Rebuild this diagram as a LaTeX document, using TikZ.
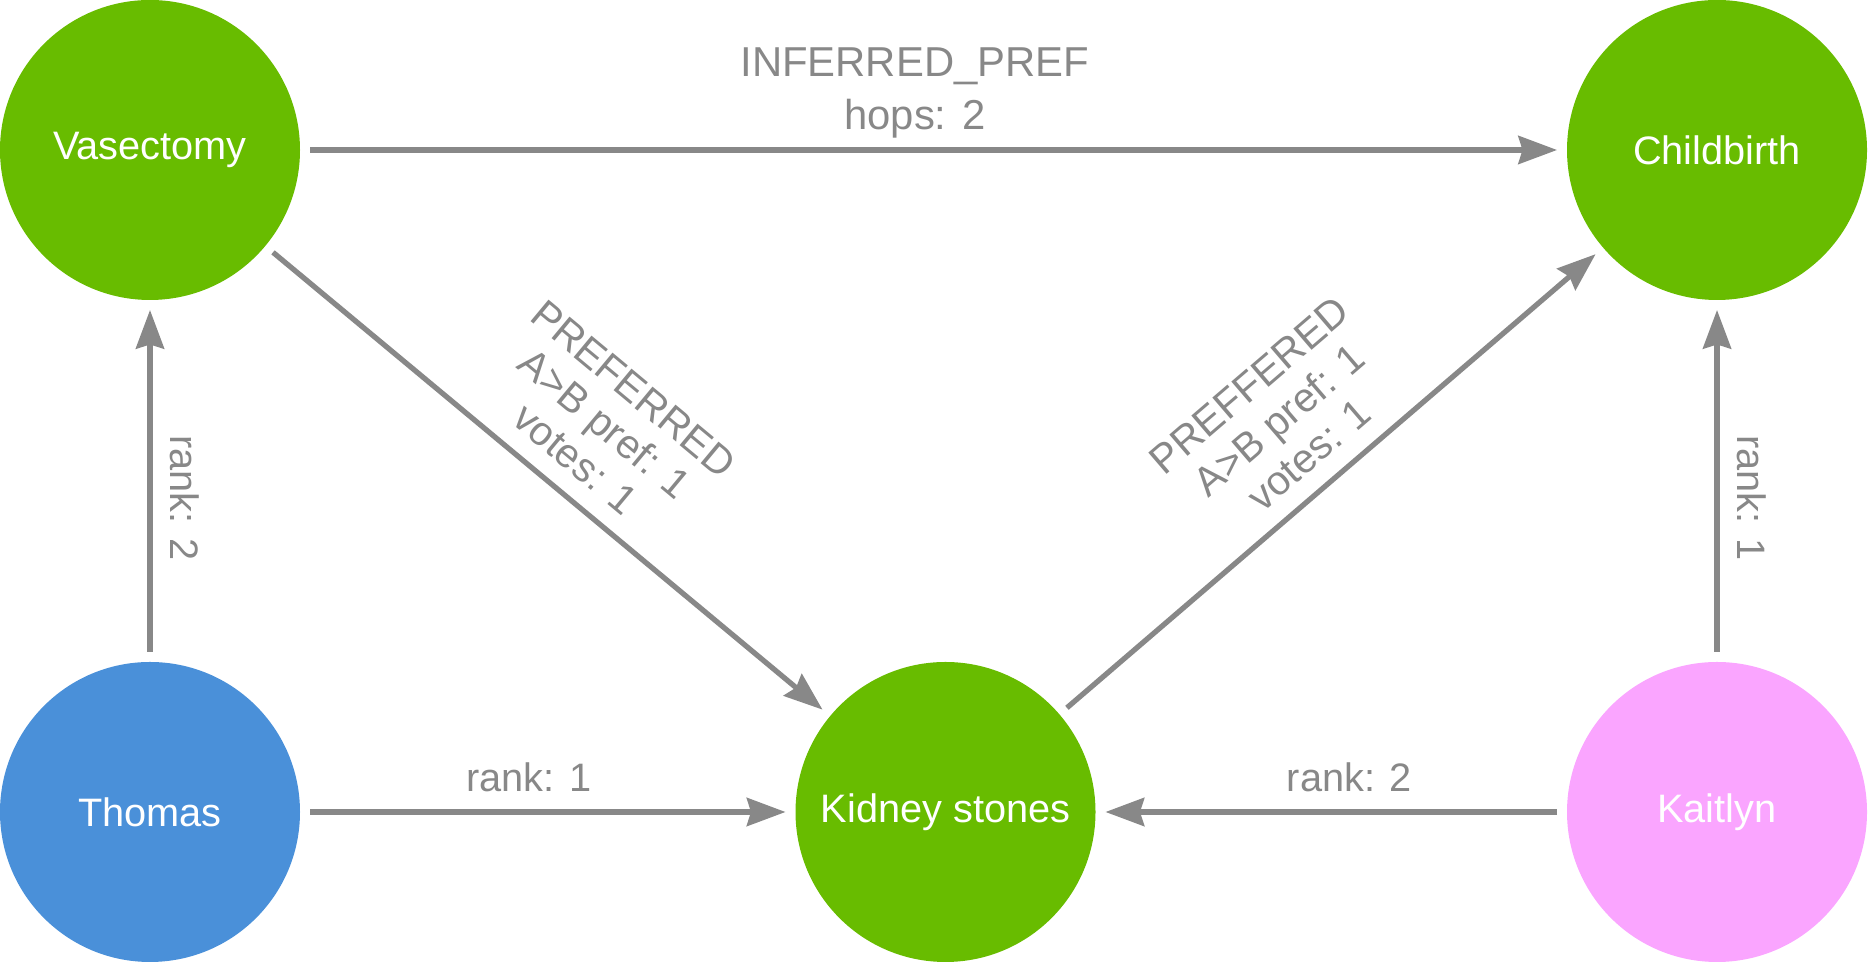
\documentclass[tikz,border=0pt]{standalone}
\usepackage{fontspec}
\setmainfont{Liberation Sans}
\usetikzlibrary{arrows.meta,positioning}
\definecolor{nodegreen}{HTML}{68BC00}
\definecolor{nodeblue}{HTML}{4A90D9}
\definecolor{nodepink}{HTML}{FAA5FF}
\definecolor{relgray}{HTML}{888888}

\begin{document}
\begin{tikzpicture}[
    entity/.style={circle, minimum size=3cm, inner sep=0pt, outer sep=0.1cm, text=white, font=\fontsize{11.3}{14}\selectfont},
    rel/.style={draw=relgray, line width=1.5pt, -{Stealth[length=11pt, width=8pt, inset=1.2pt]}},
    lbl/.style={text=relgray, align=center, inner sep=5pt, font=\fontsize{11.3}{15}\selectfont},
    tightlbl/.style={lbl, font=\fontsize{11.6}{13}\selectfont}
]
    \useasboundingbox (0,0) rectangle (18.68,9.62);

    \node [entity, fill=nodegreen] (vasectomy) at (1.5,8.12) {Vasectomy};
    \node [entity, fill=nodegreen] (childbirth) at (17.17,8.12) {Childbirth};
    \node [entity, fill=nodeblue] (thomas) at (1.5,1.5) {Thomas};
    \node [entity, fill=nodegreen] (kidney) at (9.455,1.5) {Kidney stones};
    \node [entity, fill=nodepink] (kaitlyn) at (17.17,1.5) {Kaitlyn};

    \draw[rel] (vasectomy) -- node[lbl, above, pos=0.485, yshift=-2.4pt, font=\fontsize{11.9}{15}\selectfont] {INFERRED\_PREF\\hops: 2} (childbirth);
    \draw[rel] (vasectomy) -- node[tightlbl, above, sloped, pos=0.51] {PREFERRED\\A>B pref: 1\\votes: 1} (kidney);
    \draw[rel] (kidney) -- node[tightlbl, above, sloped, pos=0.5] {PREFFERED\\A>B pref: 1\\votes: 1} (childbirth);
    \draw[rel] (thomas) -- node[lbl, above, pos=0.46] {rank: 1} (kidney);
    \draw[rel] (thomas) -- node[lbl, above, rotate=-90, pos=0.45] {rank: 2} (vasectomy);
    \draw[rel] (kaitlyn) -- node[lbl, above, pos=0.46] {rank: 2} (kidney);
    \draw[rel] (kaitlyn) -- node[lbl, above, rotate=-90, pos=0.45] {rank: 1} (childbirth);

\end{tikzpicture}
\end{document}
